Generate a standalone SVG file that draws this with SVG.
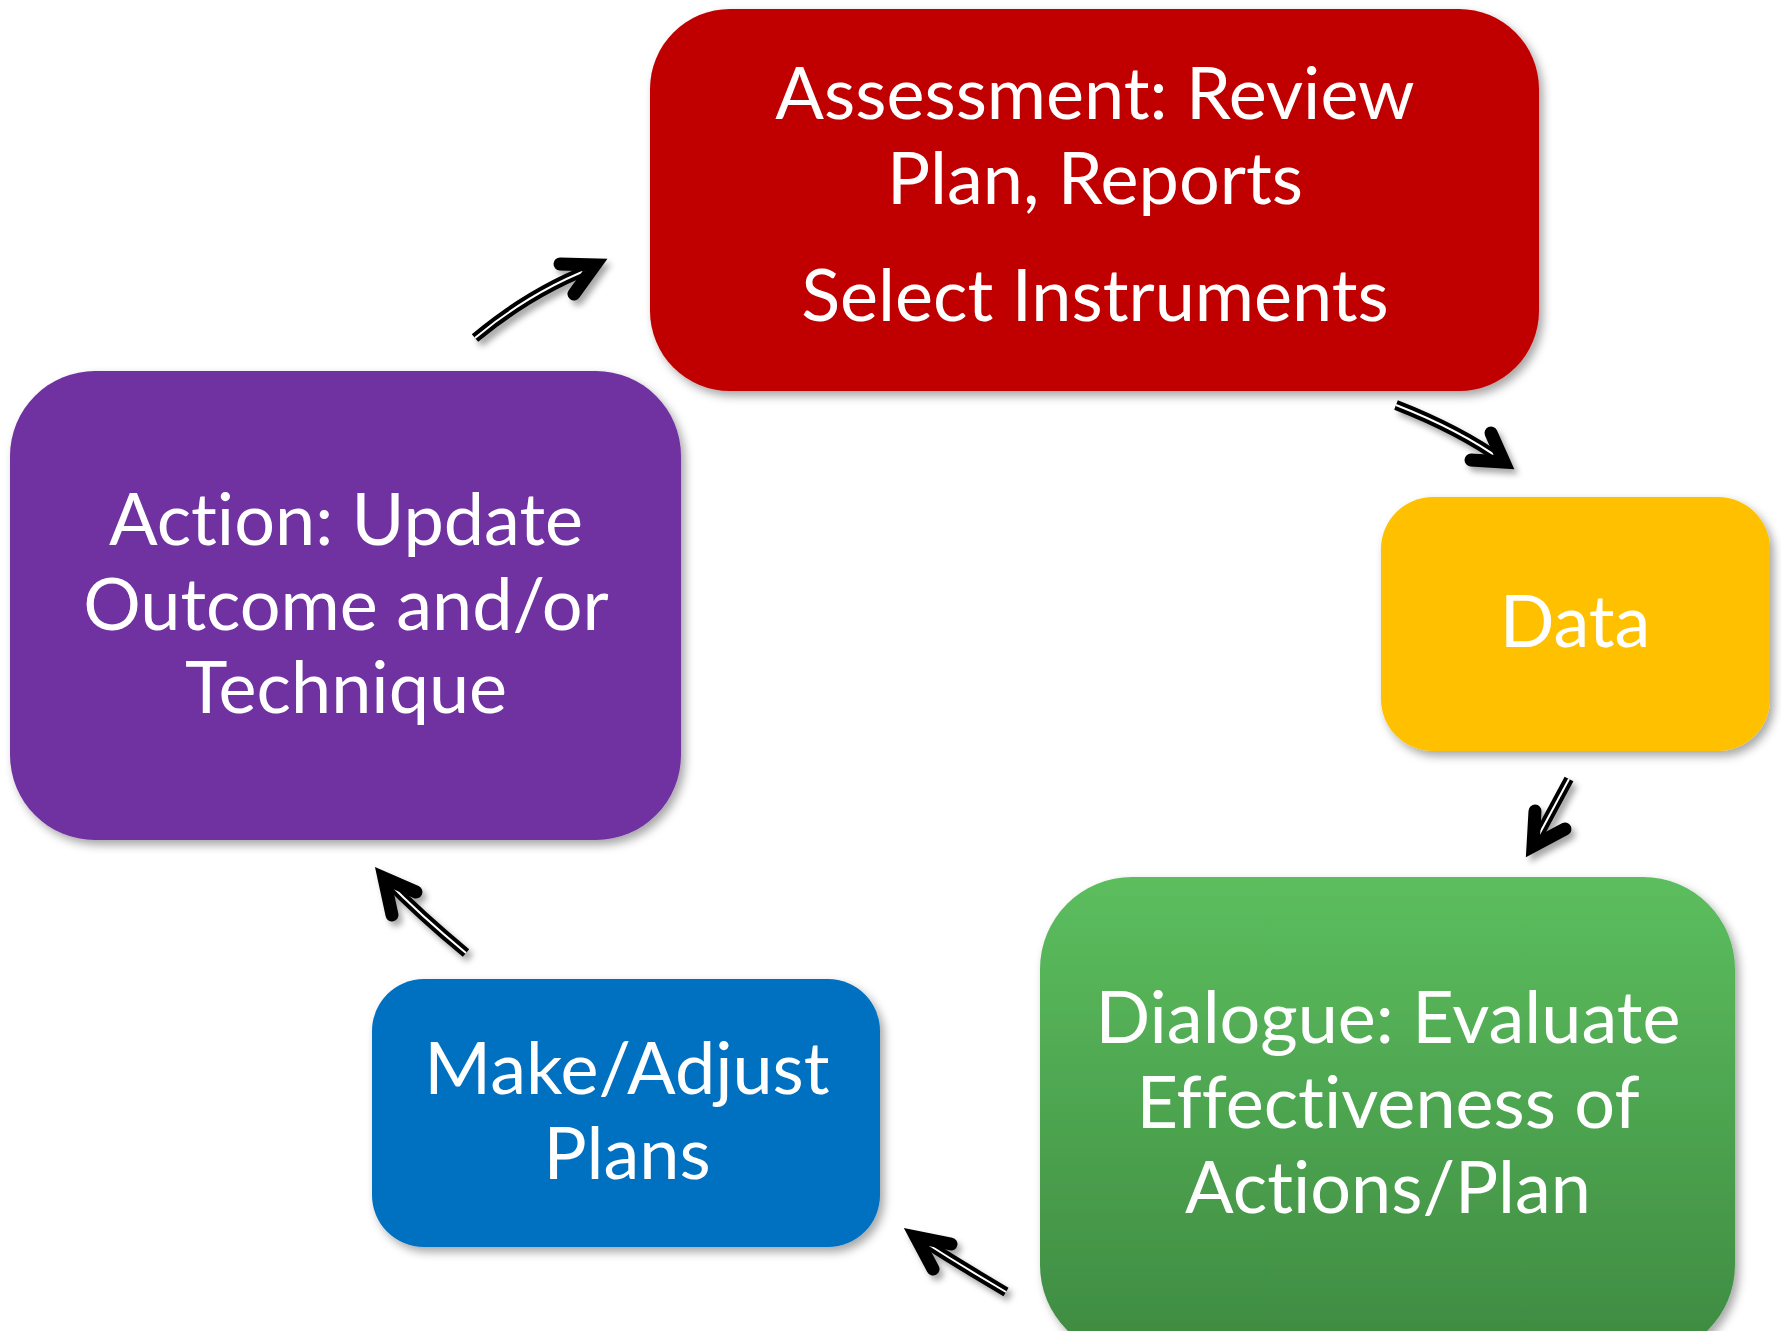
<svg xmlns="http://www.w3.org/2000/svg" width="1781" height="1331" viewBox="0 0 1781 1331">
<defs>
<filter id="sh" x="-10%" y="-10%" width="130%" height="130%"><feDropShadow dx="4" dy="5" stdDeviation="5" flood-color="#000" flood-opacity="0.35"/></filter>
<filter id="ash" x="-30%" y="-30%" width="170%" height="170%"><feDropShadow dx="4" dy="5" stdDeviation="3" flood-color="#000" flood-opacity="0.35"/></filter>
<linearGradient id="gg" x1="0" y1="0" x2="0" y2="1"><stop offset="0" stop-color="#5CBE5E"/><stop offset="1" stop-color="#3E8A41"/></linearGradient>
<style>
.t{font-family:Lato,"Open Sans",sans-serif;font-size:72px;fill:#fff;text-anchor:middle;font-variant-ligatures:none;font-feature-settings:"liga" 0}
.sk{fill:none;stroke:#000;stroke-width:10;stroke-linecap:butt}
.sw{fill:none;stroke:#fff;stroke-width:2}
.hd{fill:none;stroke:#000;stroke-width:13;stroke-linecap:round;stroke-linejoin:miter;stroke-miterlimit:10}
</style>
</defs>
<rect width="1781" height="1331" fill="#fff"/>
<g id="assessment" filter="url(#sh)">
<rect x="650" y="9" width="889" height="382" rx="80" fill="#C00000"/>
<text class="t" x="1095" y="119">Assessment: Review</text>
<text class="t" x="1095" y="204">Plan, Reports</text>
<text class="t" x="1095" y="321">Select Instruments</text>
</g>
<g id="data" filter="url(#sh)">
<rect x="1381" y="497" width="389" height="254" rx="52" fill="#FFC000"/>
<text class="t" x="1575" y="647">Data</text>
</g>
<g id="dialogue" filter="url(#sh)">
<rect x="1040" y="877" width="695" height="480" rx="92" fill="url(#gg)"/>
<text class="t" x="1388" y="1043">Dialogue: Evaluate</text>
<text class="t" x="1388" y="1128">Effectiveness of</text>
<text class="t" x="1388" y="1213">Actions/Plan</text>
</g>
<g id="plans" filter="url(#sh)">
<rect x="372" y="979" width="508" height="268" rx="52" fill="#0070C0"/>
<text class="t" x="627" y="1094">Make/Adjust</text>
<text class="t" x="627" y="1179">Plans</text>
</g>
<g id="action" filter="url(#sh)">
<rect x="10" y="371" width="671" height="469" rx="85" fill="#7030A0"/>
<text class="t" x="346" y="545">Action: Update</text>
<text class="t" x="346" y="630">Outcome and/or</text>
<text class="t" x="346" y="713">Technique</text>
</g>
<g id="connectors" filter="url(#ash)">
<g>
<path class="sk" d="M475,338 Q530,292 592,268"/>
<path class="sw" d="M475,338 Q530,292 592,268"/>
<polyline class="hd" points="560,264 595,265 574,294"/>
</g>
<g>
<path class="sk" d="M1396,405 Q1460,430 1503,461"/>
<path class="sw" d="M1396,405 Q1460,430 1503,461"/>
<polyline class="hd" points="1491,433 1504,462 1471,460"/>
</g>
<g>
<path class="sk" d="M1569,779 L1534,844"/>
<path class="sw" d="M1569,779 L1534,844"/>
<polyline class="hd" points="1535,811 1533,846 1565,829"/>
</g>
<g>
<path class="sk" d="M1006,1292 Q960,1265 918,1238"/>
<path class="sw" d="M1006,1292 Q960,1265 918,1238"/>
<polyline class="hd" points="951,1244 916,1237 933,1269"/>
</g>
<g>
<path class="sk" d="M466,953 Q420,915 386,880"/>
<path class="sw" d="M466,953 Q420,915 386,880"/>
<polyline class="hd" points="416,892 384,878 392,915"/>
</g>
</g>
</svg>
